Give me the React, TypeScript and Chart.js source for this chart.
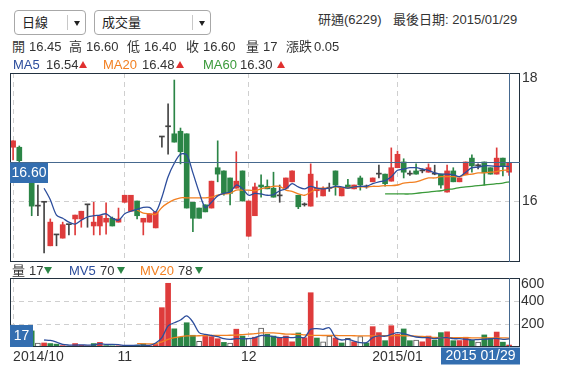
import React, { useEffect, useRef } from "react";
import { Chart, registerables } from "chart.js";

Chart.register(...registerables);

// ---------------- data ----------------
const stockName = "研通(6229)";
const lastDate = "2015/01/29";
const monthStarts = [0, 18, 38, 62];
const monthLabels = ["2014/10", "11", "12", "2015/01"];
const priceTicks = [16, 18];
const volumeTicks = [200, 400, 600];

const opens = [
  16.84, 16.84, 16.6, 16.3, 15.92, 15.98, 15.3, 15.47, 15.42, 15.63,
  15.72, 15.72, 15.94, 15.61, 15.61, 15.67, 15.73, 15.67, 15.98, 15.84,
  16.0, 15.67, 15.67, 15.58, 17.0, 17.16, 17.05, 17.09, 17.05, 15.98,
  15.89, 15.94, 15.89, 16.52, 16.47, 16.36, 16.2, 16.47, 15.45, 15.77,
  16.25, 16.23, 16.2, 16.08, 16.2, 16.3, 16.09, 15.94, 15.92, 16.16,
  16.08, 16.2, 16.47, 16.08, 16.25, 16.19, 16.36, 16.22, 16.3, 16.42,
  16.42, 16.31, 16.52, 16.61, 16.42, 16.47, 16.47, 16.45, 16.42, 16.42,
  16.14, 16.47, 16.3, 16.41, 16.67, 16.55, 16.61, 16.52, 16.42, 16.67,
  16.45,
];
const highs = [
  16.94, 16.86, 16.6, 16.32, 16.25, 15.98, 15.72, 15.47, 15.67, 15.63,
  15.78, 15.84, 15.94, 15.98, 15.77, 15.97, 15.75, 15.89, 16.09, 16.09,
  16.0, 15.73, 15.8, 15.83, 17.0, 17.52, 17.89, 17.14, 17.05, 15.98,
  15.89, 15.94, 16.31, 16.94, 16.47, 16.36, 16.77, 16.47, 16.0, 16.28,
  16.41, 16.33, 16.45, 16.25, 16.36, 16.47, 16.09, 15.97, 16.58, 16.31,
  16.22, 16.28, 16.47, 16.2, 16.34, 16.25, 16.39, 16.25, 16.36, 16.56,
  16.42, 16.83, 16.78, 16.66, 16.47, 16.58, 16.5, 16.58, 16.56, 16.42,
  16.56, 16.52, 16.36, 16.61, 16.72, 16.58, 16.61, 16.52, 16.83, 16.67,
  16.6,
];
const lows = [
  16.64, 16.6, 16.3, 15.77, 15.77, 15.19, 15.3, 15.3, 15.42, 15.47,
  15.47, 15.59, 15.59, 15.47, 15.47, 15.48, 15.61, 15.67, 15.98, 15.84,
  15.72, 15.47, 15.67, 15.58, 16.84, 16.73, 16.92, 16.58, 15.89, 15.52,
  15.73, 15.83, 15.89, 16.3, 16.09, 15.94, 16.2, 16.0, 15.45, 15.77,
  16.06, 16.19, 16.06, 15.98, 16.2, 16.3, 15.88, 15.92, 15.92, 16.06,
  16.08, 16.15, 16.09, 16.08, 16.2, 16.19, 16.17, 16.2, 16.3, 16.36,
  16.23, 16.31, 16.52, 16.36, 16.4, 16.42, 16.44, 16.45, 16.41, 16.2,
  16.14, 16.3, 16.3, 16.41, 16.45, 16.5, 16.25, 16.42, 16.42, 16.39,
  16.4,
];
const closes = [
  16.94, 16.63, 16.35, 15.92, 15.92, 15.98, 15.67, 15.47, 15.63, 15.63,
  15.78, 15.84, 15.94, 15.67, 15.77, 15.73, 15.61, 15.72, 16.09, 16.09,
  15.77, 15.73, 15.8, 15.83, 17.0, 17.16, 16.92, 16.77, 15.89, 15.73,
  15.73, 15.83, 16.31, 16.42, 16.12, 16.12, 16.31, 16.0, 16.0, 16.22,
  16.22, 16.19, 16.06, 16.08, 16.36, 16.47, 15.91, 15.94, 16.42, 16.2,
  16.2, 16.2, 16.25, 16.2, 16.2, 16.25, 16.25, 16.22, 16.36, 16.42,
  16.27, 16.52, 16.73, 16.45, 16.42, 16.42, 16.47, 16.52, 16.42, 16.25,
  16.47, 16.3, 16.36, 16.61, 16.55, 16.55, 16.44, 16.42, 16.67, 16.55,
  16.6,
];
const volumes = [
  60, 90, 70, 140, 35, 35, 30, 25, 12, 10,
  30, 15, 10, 30, 40, 12, 10, 10, 12, 10,
  15, 28, 10, 22, 342, 554, 158, 85, 211, 102,
  50, 92, 90, 72, 40, 35, 155, 95, 75, 85,
  165, 110, 95, 78, 95, 45, 122, 80, 472, 78,
  45, 95, 78, 35, 75, 45, 91, 35, 177, 125,
  55, 185, 110, 157, 55, 60, 45, 95, 60, 125,
  132, 55, 56, 85, 58, 42, 105, 75, 130, 42,
  17,
];

const ma5Start = 5;
const ma5 = [
  16.2, 16.02, 15.78, 15.73, 15.67, 15.64, 15.7, 15.75, 15.77, 15.78,
  15.8, 15.73, 15.7, 15.8, 15.84, 15.87, 15.9, 15.9, 15.83, 16.06,
  16.38, 16.59, 16.73, 16.72, 16.44, 16.14, 15.9, 15.98, 16.08, 16.12,
  16.14, 16.25, 16.19, 16.09, 16.12, 16.11, 16.09, 16.1, 16.16, 16.19,
  16.27, 16.22, 16.19, 16.23, 16.2, 16.19, 16.2, 16.23, 16.22, 16.2,
  16.22, 16.23, 16.23, 16.27, 16.3, 16.32, 16.38, 16.48, 16.5, 16.52,
  16.52, 16.5, 16.48, 16.44, 16.42, 16.42, 16.41, 16.38, 16.45, 16.52,
  16.53, 16.55, 16.55, 16.54, 16.54, 16.54,
];
const ma20Start = 20;
const ma20 = [
  15.86, 15.81, 15.8, 15.79, 15.9, 15.97, 16.02, 16.05, 16.05, 16.05,
  16.05, 16.05, 16.06, 16.09, 16.11, 16.12, 16.17, 16.17, 16.17, 16.16,
  16.19, 16.21, 16.23, 16.23, 16.17, 16.15, 16.11, 16.09, 16.14, 16.19,
  16.2, 16.2, 16.22, 16.21, 16.21, 16.22, 16.22, 16.22, 16.23, 16.23,
  16.24, 16.24, 16.25, 16.28, 16.29, 16.3, 16.33, 16.36, 16.36, 16.38,
  16.38, 16.38, 16.38, 16.41, 16.42, 16.44, 16.44, 16.45, 16.46, 16.48,
  16.48,
];
const ma60Start = 60;
const ma60 = [
  16.11, 16.11, 16.11, 16.11, 16.11, 16.12, 16.13, 16.14, 16.15, 16.16,
  16.18, 16.19, 16.21, 16.22, 16.23, 16.24, 16.25, 16.26, 16.27, 16.28,
  16.3,
];
const mv5Start = 5;
const mv5 = [
  61, 57, 42, 22, 17, 17, 18, 17, 18, 29,
  22, 22, 20, 14, 14, 16, 16, 14, 35, 81,
  183, 211, 235, 270, 217, 125, 110, 100, 90, 72,
  67, 72, 72, 72, 81, 100, 96, 90, 82, 85,
  82, 87, 82, 154, 160, 154, 168, 82, 61, 67,
  52, 38, 38, 82, 96, 94, 110, 125, 116, 101,
  87, 82, 82, 72, 80, 82, 72, 72, 67, 62,
  65, 67, 72, 75, 67, 70,
];
const mv20Start = 20;
const mv20 = [
  30, 28, 27, 28, 45, 67, 82, 90, 96, 97,
  98, 99, 100, 100, 101, 102, 104, 108, 112, 116,
  122, 123, 122, 118, 112, 111, 110, 105, 101, 101,
  100, 100, 100, 99, 99, 98, 97, 96, 97, 98,
  98, 98, 99, 98, 96, 95, 92, 88, 84, 82,
  81, 81, 81, 81, 80, 80, 80, 80, 79, 79,
  78,
];

// ---------------- styles ----------------
const FONT = '"Liberation Sans", Arial, "Noto Sans CJK TC", sans-serif';
const RED = "#de3b3b";
const GREEN = "#2b8546";
const DOJI = "#444444";
const C_MA5 = "#2c4d9c";
const C_MA20 = "#f28022";
const C_MA60 = "#3a9a3a";
const GRID = "#cfcfcf";
const BORDER = "#22313f";
const CROSS = "#46698f";
const BOX = "#336eb0";
const AXIS_TEXT = "#333333";
const X_MIN = -0.5;
const X_MAX = 81.76;
const P_MIN = 15.047;
const P_MAX = 18;
const V_MAX = 600;

const N = closes.length;
const LAST = N - 1;
const idx = closes.map((_, i) => i);
const pts = (start: number, arr: number[]) => arr.map((y, j) => ({ x: start + j, y }));
const candleColor = (i: number) =>
  closes[i] > opens[i] ? RED : closes[i] < opens[i] ? GREEN : DOJI;
const volDir = (i: number) =>
  i === 0 ? Math.sign(closes[0] - opens[0]) : Math.sign(closes[i] - closes[i - 1]);

const lineDs = (label: string, start: number, arr: number[], color: string) => ({
  type: "line" as const,
  label,
  data: pts(start, arr),
  borderColor: color,
  borderWidth: 1.3,
  pointRadius: 0,
  tension: 0.3,
  order: 0,
});

const xScale = (withLabels: boolean) => ({
  type: "linear" as const,
  min: X_MIN,
  max: X_MAX,
  bounds: "data" as const,
  offset: false,
  afterBuildTicks: (s: any) => {
    s.ticks = (withLabels ? [...monthStarts, X_MAX] : monthStarts).map((v) => ({ value: v }));
  },
  afterFit: (s: any) => {
    s.height = withLabels ? 28 : 0;
  },
  ticks: withLabels
    ? {
        display: true,
        autoSkip: false,
        maxRotation: 0,
        align: "inner" as const,
        padding: 2,
        color: AXIS_TEXT,
        font: { family: FONT, size: 14 },
        callback: (_v: any, i: number) => monthLabels[i] ?? "",
      }
    : { display: false },
  grid: {
    offset: false,
    drawTicks: false,
    color: (ctx: any) => (ctx.index < monthStarts.length ? GRID : "rgba(0,0,0,0)"),
  },
  border: { display: false, dash: [5, 4] },
});

const yScale = (min: number, max: number, ticks: number[]) => ({
  type: "linear" as const,
  position: "right" as const,
  min,
  max,
  bounds: "data" as const,
  beginAtZero: false,
  afterBuildTicks: (s: any) => {
    s.ticks = ticks.map((v) => ({ value: v }));
  },
  afterFit: (s: any) => {
    s.width = 54;
  },
  ticks: { display: false },
  grid: {
    drawTicks: false,
    color: (ctx: any) => (ctx.tick && ctx.tick.value >= max ? "rgba(0,0,0,0)" : GRID),
  },
  border: { display: false, dash: [5, 4] },
});

const pricePlugin = {
  id: "priceOverlay",
  afterDraw(chart: any) {
    const { ctx, chartArea: a, scales } = chart;
    const xs = scales.x;
    const ys = scales.y;
    ctx.save();
    ctx.lineWidth = 1;
    ctx.strokeStyle = BORDER;
    ctx.strokeRect(a.left + 0.5, a.top + 0.5, a.right - a.left - 1, a.bottom - a.top - 1);
    const cx = Math.round(xs.getPixelForValue(LAST)) + 0.5;
    const cy = Math.round(ys.getPixelForValue(closes[LAST])) - 0.5;
    ctx.strokeStyle = CROSS;
    ctx.beginPath();
    ctx.moveTo(cx, a.top);
    ctx.lineTo(cx, a.bottom);
    ctx.moveTo(a.left, cy);
    ctx.lineTo(a.right, cy);
    ctx.stroke();
    ctx.fillStyle = BOX;
    ctx.fillRect(a.left, cy + 0.5, 38, 20);
    ctx.font = `14px ${FONT}`;
    ctx.fillStyle = "#ffffff";
    ctx.textAlign = "center";
    ctx.textBaseline = "middle";
    ctx.fillText(closes[LAST].toFixed(2), a.left + 19, cy + 11);
    ctx.fillStyle = AXIS_TEXT;
    ctx.textAlign = "left";
    priceTicks.forEach((v) => {
      const py = Math.max(ys.getPixelForValue(v), a.top + 5);
      ctx.fillText(String(v), a.right + 2, py);
    });
    ctx.restore();
  },
};

const volumePlugin = {
  id: "volumeOverlay",
  afterDraw(chart: any) {
    const { ctx, chartArea: a, scales } = chart;
    const xs = scales.x;
    const ys = scales.y;
    ctx.save();
    ctx.lineWidth = 1;
    ctx.strokeStyle = BORDER;
    ctx.strokeRect(a.left + 0.5, a.top + 0.5, a.right - a.left - 1, a.bottom - a.top - 1);
    const cx = Math.round(xs.getPixelForValue(LAST)) + 0.5;
    ctx.strokeStyle = CROSS;
    ctx.beginPath();
    ctx.moveTo(cx, a.top);
    ctx.lineTo(cx, a.bottom);
    ctx.stroke();
    ctx.font = `14px ${FONT}`;
    ctx.textBaseline = "middle";
    // last volume box
    ctx.fillStyle = BOX;
    ctx.fillRect(a.left, a.bottom - 22, 23, 22);
    ctx.fillStyle = "#ffffff";
    ctx.textAlign = "center";
    ctx.fillText(String(volumes[LAST]), a.left + 11.5, a.bottom - 11);
    // date box
    const bw = 79;
    const bx = Math.min(cx - bw / 2, a.right - bw);
    ctx.fillStyle = BOX;
    ctx.fillRect(bx, a.bottom + 0.5, bw, 17);
    ctx.fillStyle = "#ffffff";
    ctx.fillText(lastDate.replace("/", " "), bx + bw / 2, a.bottom + 9.5);
    // right labels
    ctx.fillStyle = AXIS_TEXT;
    ctx.textAlign = "left";
    volumeTicks.forEach((v) => {
      const py = Math.max(ys.getPixelForValue(v), a.top + 6);
      ctx.fillText(String(v), a.right + 1, py);
    });
    ctx.restore();
  },
};

function priceConfig(): any {
  return {
    type: "bar",
    data: {
      datasets: [
        lineDs("MA5", ma5Start, ma5, C_MA5),
        lineDs("MA20", ma20Start, ma20, C_MA20),
        lineDs("MA60", ma60Start, ma60, C_MA60),
        {
          type: "bar",
          label: "body",
          data: idx.map((i) => ({ x: i, y: [Math.min(opens[i], closes[i]), Math.max(opens[i], closes[i])] })),
          backgroundColor: idx.map(candleColor),
          barThickness: 5,
          minBarLength: 1,
          grouped: false,
          borderWidth: 0,
          order: 1,
        },
        {
          type: "bar",
          label: "wick",
          data: idx.map((i) => ({ x: i, y: [lows[i], highs[i]] })),
          backgroundColor: idx.map(candleColor),
          barThickness: 1,
          grouped: false,
          borderWidth: 0,
          order: 2,
        },
      ],
    },
    options: {
      animation: false,
      responsive: false,
      maintainAspectRatio: false,
      events: [],
      layout: { padding: { left: 10, top: 13, right: 0, bottom: 6 } },
      plugins: { legend: { display: false }, tooltip: { enabled: false } },
      scales: {
        x: xScale(false),
        y: yScale(P_MIN, P_MAX, priceTicks),
      },
    },
    plugins: [pricePlugin],
  };
}

function volumeConfig(): any {
  return {
    type: "bar",
    data: {
      datasets: [
        lineDs("MV5", mv5Start, mv5, C_MA5),
        lineDs("MV20", mv20Start, mv20, C_MA20),
        {
          type: "bar",
          label: "volume",
          data: idx.map((i) => ({ x: i, y: volumes[i] })),
          backgroundColor: idx.map((i) => (volDir(i) > 0 ? RED : volDir(i) < 0 ? GREEN : "#ffffff")),
          borderColor: idx.map((i) => (volDir(i) === 0 ? "#555555" : "rgba(0,0,0,0)")),
          borderWidth: idx.map((i) => (volDir(i) === 0 ? 1 : 0)),
          barThickness: 5,
          grouped: false,
          order: 1,
        },
      ],
    },
    options: {
      animation: false,
      responsive: false,
      maintainAspectRatio: false,
      events: [],
      layout: { padding: { left: 10, top: 10, right: 0, bottom: 0 } },
      plugins: { legend: { display: false }, tooltip: { enabled: false } },
      scales: {
        x: xScale(true),
        y: yScale(0, V_MAX, volumeTicks),
      },
    },
    plugins: [volumePlugin],
  };
}

// ---------------- html helpers ----------------
const Txt = ({ x, y, c = "#333", size = 13, children }: any) => (
  <span
    style={{
      position: "absolute",
      left: x,
      top: y - 8,
      fontSize: size,
      lineHeight: "16px",
      color: c,
      fontFamily: FONT,
      whiteSpace: "nowrap",
    }}
  >
    {children}
  </span>
);

const Tri = ({ x, y, up, c }: any) => (
  <span
    style={{
      position: "absolute",
      left: x,
      top: y - 3.5,
      width: 0,
      height: 0,
      borderLeft: "4.5px solid transparent",
      borderRight: "4.5px solid transparent",
      ...(up ? { borderBottom: `7px solid ${c}` } : { borderTop: `7px solid ${c}` }),
    }}
  />
);

const Drop = ({ x, w, label, sep }: any) => (
  <div
    style={{
      position: "absolute",
      left: x,
      top: 10,
      width: w,
      height: 25,
      boxSizing: "border-box",
      border: "1px solid #a8a8a8",
      borderRadius: 4,
      background: "#fff",
    }}
  >
    <span
      style={{
        position: "absolute",
        left: 7,
        top: 4,
        fontSize: 13,
        lineHeight: "16px",
        fontFamily: FONT,
        color: "#222",
        whiteSpace: "nowrap",
      }}
    >
      {label}
    </span>
    <span style={{ position: "absolute", left: sep, top: 4, width: 1, height: 15, background: "#c8c8c8" }} />
    <span
      style={{
        position: "absolute",
        left: sep + 7,
        top: 10,
        width: 0,
        height: 0,
        borderLeft: "3px solid transparent",
        borderRight: "3px solid transparent",
        borderTop: "5px solid #222",
      }}
    />
  </div>
);

export default function App() {
  const priceRef = useRef<HTMLCanvasElement>(null);
  const volRef = useRef<HTMLCanvasElement>(null);

  useEffect(() => {
    const c1 = new Chart(priceRef.current as HTMLCanvasElement, priceConfig());
    const c2 = new Chart(volRef.current as HTMLCanvasElement, volumeConfig());
    return () => {
      c1.destroy();
      c2.destroy();
    };
  }, []);

  const f2 = (v: number) => v.toFixed(2);
  const change = closes[LAST] - closes[LAST - 1];

  return (
    <div
      style={{
        position: "fixed",
        left: 0,
        top: 0,
        width: 574,
        height: 375,
        background: "#fff",
        overflow: "hidden",
      }}
    >
      <canvas
        ref={priceRef}
        width={574}
        height={208}
        style={{ position: "absolute", left: 0, top: 60, width: 574, height: 208 }}
      />
      <canvas
        ref={volRef}
        width={574}
        height={107}
        style={{ position: "absolute", left: 0, top: 268, width: 574, height: 107 }}
      />

      <Drop x={14} w={72} label="日線" sep={52} />
      <Drop x={94} w={117} label="成交量" sep={97} />
      <Txt x={318} y={20}>{stockName}</Txt>
      <Txt x={393} y={20}>{"最後日期: " + lastDate}</Txt>

      <Txt x={12} y={47}>開</Txt>
      <Txt x={29} y={47}>{f2(opens[LAST])}</Txt>
      <Txt x={69} y={47}>高</Txt>
      <Txt x={86} y={47}>{f2(highs[LAST])}</Txt>
      <Txt x={127} y={47}>低</Txt>
      <Txt x={144} y={47}>{f2(lows[LAST])}</Txt>
      <Txt x={186} y={47}>收</Txt>
      <Txt x={203} y={47}>{f2(closes[LAST])}</Txt>
      <Txt x={246} y={47}>量</Txt>
      <Txt x={263} y={47}>{String(volumes[LAST])}</Txt>
      <Txt x={286} y={47}>漲跌</Txt>
      <Txt x={314} y={47}>{f2(change)}</Txt>

      <Txt x={13} y={65} c={C_MA5}>MA5</Txt>
      <Txt x={46} y={65}>{f2(ma5[ma5.length - 1])}</Txt>
      <Tri x={79} y={64.5} up c="#e0302f" />
      <Txt x={103} y={65} c={C_MA20}>MA20</Txt>
      <Txt x={142} y={65}>{f2(ma20[ma20.length - 1])}</Txt>
      <Tri x={176} y={64.5} up c="#e0302f" />
      <Txt x={203} y={65} c={C_MA60}>MA60</Txt>
      <Txt x={240} y={65}>{f2(ma60[ma60.length - 1])}</Txt>
      <Tri x={277} y={64.5} up c="#e0302f" />

      <Txt x={12} y={270.5}>量</Txt>
      <Txt x={29} y={270.5}>{String(volumes[LAST])}</Txt>
      <Tri x={44} y={270.5} c={GREEN} />
      <Txt x={69} y={270.5} c={C_MA5}>MV5</Txt>
      <Txt x={100} y={270.5}>{String(mv5[mv5.length - 1])}</Txt>
      <Tri x={117} y={270.5} c={GREEN} />
      <Txt x={140} y={270.5} c={C_MA20}>MV20</Txt>
      <Txt x={178} y={270.5}>{String(mv20[mv20.length - 1])}</Txt>
      <Tri x={195} y={270.5} c={GREEN} />
    </div>
  );
}
